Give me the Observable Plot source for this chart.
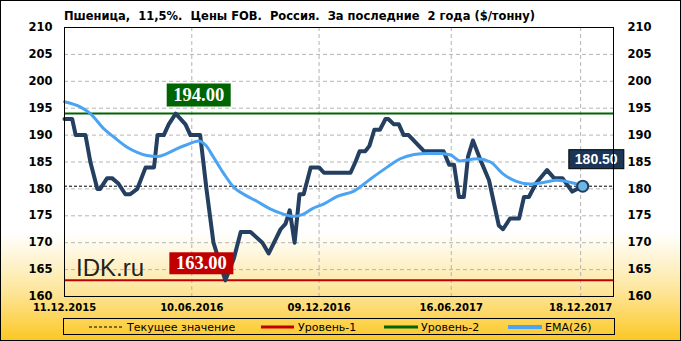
<!DOCTYPE html>
<html><head><meta charset="utf-8">
<script src="https://cdn.jsdelivr.net/npm/d3@7"></script>
<script src="https://cdn.jsdelivr.net/npm/@observablehq/plot@0.6"></script>
<style>
html,body{margin:0;padding:0;background:#fff;}
#wrap{position:relative;width:681px;height:341px;overflow:hidden;
background:linear-gradient(180deg,#ffffff 0px,#ffffff 232px,#fef3cf 262px,#fde598 292px,#fdd55a 318px,#fcc722 341px);}
#wrap svg{position:absolute;left:0;top:0;}
</style></head>
<body><div id="wrap"></div>
<script>
// ---- data ----
const priceDates = ["2015-12-11","2015-12-22","2015-12-27","2016-01-10","2016-01-17","2016-01-27","2016-01-31","2016-02-10","2016-02-17","2016-02-26","2016-03-07","2016-03-14","2016-03-24","2016-04-05","2016-04-17","2016-04-22","2016-05-01","2016-05-08","2016-05-18","2016-06-01","2016-06-08","2016-06-22","2016-07-01","2016-07-11","2016-07-28","2016-08-09","2016-08-19","2016-09-02","2016-09-19","2016-09-28","2016-10-15","2016-10-22","2016-10-28","2016-11-04","2016-11-11","2016-11-17","2016-11-27","2016-12-09","2016-12-16","2017-01-23","2017-01-30","2017-02-05","2017-02-13","2017-02-19","2017-02-26","2017-03-06","2017-03-14","2017-03-18","2017-03-26","2017-04-02","2017-04-09","2017-04-16","2017-05-08","2017-06-05","2017-06-13","2017-06-20","2017-06-27","2017-07-04","2017-07-10","2017-07-17","2017-07-28","2017-08-09","2017-08-23","2017-08-29","2017-09-08","2017-09-21","2017-09-28","2017-10-05","2017-10-15","2017-10-31","2017-11-10","2017-11-22","2017-12-06","2017-12-13","2017-12-21"];
const priceValues = [193,193,190,190,185,180,180,182,182,181,179,179,180,184,184,190,190,192,194,192,190,190,180,170,163,167,172,172,170,168,172.5,173.5,176,170,179,179,184,184,183,183,185,187,187,188,191,191,193,193,192,192,190,190,187,187,184.5,184.5,178.5,178.5,186,189,185.3,181.6,173.2,172.5,174.5,174.5,178.5,178.5,181,183.5,182,182,179.5,180,180.5];
const emaDates = ["2015-12-11","2016-01-03","2016-01-17","2016-02-05","2016-02-20","2016-03-09","2016-03-24","2016-04-07","2016-04-22","2016-05-06","2016-05-20","2016-06-03","2016-06-20","2016-06-30","2016-07-11","2016-07-26","2016-08-09","2016-08-26","2016-09-11","2016-09-30","2016-10-17","2016-11-03","2016-11-15","2016-11-29","2016-12-16","2017-01-04","2017-01-28","2017-02-21","2017-03-16","2017-04-04","2017-04-24","2017-05-13","2017-06-01","2017-06-15","2017-06-29","2017-07-23","2017-08-11","2017-08-29","2017-09-17","2017-10-07","2017-10-26","2017-11-14","2017-12-04","2017-12-21"];
const emaValues = [196.2,195.2,194,191.2,189.6,187.8,186.8,186.2,186,186.6,187.5,188.2,188.9,188.1,185.9,182.8,180.3,178.8,177.7,176.3,175.4,174.9,175.2,176.3,177.2,178.6,179.6,181.9,184,185.6,186.4,186.6,186.6,186.3,185.2,185.6,185,182.8,181.4,180.9,181.2,181.6,181.2,180.6];
const level1 = 163.00;
const level2 = 194.00;
const currentValue = 180.50;
const level2Date = "2016-05-18";
const level1Date = "2016-07-28";
const yTicks = [160,165,170,175,180,185,190,195,200,205,210];
const xTickLabels = ["11.12.2015","10.06.2016","09.12.2016","16.06.2017","18.12.2017"];
const titleText = "Пшеница,  11,5%.  Цены FOB.  Россия.  За последние  2 года ($/тонну)";
const legendLabels = ["Текущее значение","Уровень-1","Уровень-2","EMA(26)"];
const watermark = "IDK.ru";

// ---- build ----
const pd = s => new Date(s + "T00:00:00Z");
const pdm = s => { const [d,m,y] = s.split("."); return pd(`${y}-${m}-${d}`); };
const price = priceDates.map((d,i) => ({date: pd(d), v: priceValues[i]}));
const ema = emaDates.map((d,i) => ({date: pd(d), v: emaValues[i]}));
const xTicks = xTickLabels.map(pdm);
const last = price[price.length-1];
const fmt = d3.format(".2f");

const NAVY = "#243f60", BLUE = "#4ba3f3", RED = "#c00000", GREEN = "#006400";

const plot = Plot.plot({
  width: 681, height: 341,
  marginLeft: 64, marginRight: 68, marginTop: 27, marginBottom: 45,
  style: {background: "transparent", fontFamily: "DejaVu Sans", color: "#000", overflow: "visible"},
  x: {type: "utc", domain: [xTicks[0], pd("2018-02-03")]},
  y: {domain: [yTicks[0], yTicks[yTicks.length-1]]},
  marks: [
    Plot.gridY(yTicks.slice(1, -1), {stroke: "#b4b4b4", strokeOpacity: 1, strokeDasharray: "4,3"}),
    Plot.gridX(xTicks.slice(1), {stroke: "#b4b4b4", strokeOpacity: 1, strokeDasharray: "4,3"}),
    Plot.ruleY([level1], {stroke: RED, strokeWidth: 2}),
    Plot.ruleY([level2], {stroke: GREEN, strokeWidth: 2}),
    Plot.ruleY([currentValue], {stroke: "#000", strokeWidth: 1, strokeDasharray: "3,2"}),
    Plot.line(price, {x: "date", y: "v", stroke: NAVY, strokeWidth: 4, strokeLinejoin: "round", strokeLinecap: "round"}),
    Plot.line(ema, {x: "date", y: "v", stroke: BLUE, strokeWidth: 3, curve: "monotone-x"}),
    Plot.dot([last], {x: "date", y: "v", r: 5.5, fill: "#6bb8e4", stroke: NAVY, strokeWidth: 2}),
    Plot.text([{date: pd(level2Date), v: level2}], {x: "date", y: "v", text: d => fmt(d.v), dx: 23, dy: -18.5,
      fill: "#fff", fontWeight: "bold", fontSize: 18.5, fontFamily: "Liberation Serif"}),
    Plot.text([{date: pd(level1Date), v: level1}], {x: "date", y: "v", text: d => fmt(d.v), dx: -24, dy: -17,
      fill: "#fff", fontWeight: "bold", fontSize: 18.5, fontFamily: "Liberation Serif"}),
    Plot.text([last], {x: "date", y: "v", text: d => fmt(d.v), dx: 13.5, dy: -26.5,
      fill: "#fff", fontWeight: "bold", fontSize: 14, fontFamily: "Liberation Sans"}),
    Plot.frame({stroke: "#000"}),
    Plot.axisY({anchor: "left", ticks: yTicks, tickSize: 0, tickPadding: 12, fontWeight: "bold", fontSize: 11.5, label: null}),
    Plot.axisY({anchor: "right", ticks: yTicks, tickSize: 0, tickPadding: 14, fontWeight: "bold", fontSize: 11.5, label: null}),
    Plot.axisX({ticks: xTicks, tickSize: 0, tickPadding: 7, tickFormat: d3.utcFormat("%d.%m.%Y"), fontWeight: "bold", fontSize: 10, label: null})
  ]
});
const wrap = document.getElementById("wrap");
wrap.appendChild(plot);

function boxify(label, fill, stroke, w, h) {
  Array.from(plot.querySelectorAll("text")).filter(t => t.textContent === label).forEach(t => {
    const b = t.getBBox();
    const r = document.createElementNS("http://www.w3.org/2000/svg", "rect");
    r.setAttribute("x", b.x + b.width/2 - w/2);
    r.setAttribute("y", b.y + b.height/2 - h/2);
    r.setAttribute("width", w);
    r.setAttribute("height", h);
    r.setAttribute("fill", fill);
    if (stroke) { r.setAttribute("stroke", stroke); r.setAttribute("stroke-width", 1); }
    if (t.getAttribute("transform")) r.setAttribute("transform", t.getAttribute("transform"));
    t.parentNode.insertBefore(r, t);
  });
}
boxify(fmt(level2), GREEN, null, 64, 23);
boxify(fmt(level1), RED, null, 64, 22);
boxify(fmt(last.v), "#1b3557", "#000", 55, 19);

// ---- overlay: title, watermark, legend, outer border ----
const ov = d3.select(wrap).append("svg").attr("width", 681).attr("height", 341);
ov.append("text").attr("x", 64).attr("y", 19.5)
  .attr("font-family", "DejaVu Sans").attr("font-weight", "bold").attr("font-size", 11.5)
  .attr("textLength", 471).attr("lengthAdjust", "spacingAndGlyphs")
  .style("white-space", "pre").text(titleText);
ov.append("text").attr("x", 76).attr("y", 276)
  .attr("font-family", "Liberation Sans").attr("font-size", 24).attr("fill", "#222").text(watermark);

ov.append("rect").attr("x", 63.5).attr("y", 318.5).attr("width", 551).attr("height", 16)
  .attr("fill", "none").attr("stroke", "#000");
const sw = [
  {x1: 89, x2: 122, tx: 127, stroke: "#000", w: 1, dash: "3,2"},
  {x1: 261, x2: 294, tx: 298, stroke: RED, w: 3, dash: null},
  {x1: 384, x2: 418, tx: 421, stroke: GREEN, w: 3, dash: null},
  {x1: 508, x2: 542, tx: 545, stroke: BLUE, w: 4, dash: null}
];
sw.forEach((s, i) => {
  const l = ov.append("line").attr("x1", s.x1).attr("x2", s.x2).attr("y1", 327).attr("y2", 327)
    .attr("stroke", s.stroke).attr("stroke-width", s.w);
  if (s.dash) l.attr("stroke-dasharray", s.dash);
  ov.append("text").attr("x", s.tx).attr("y", 331).attr("font-family", "DejaVu Sans").attr("font-size", 11)
    .attr("fill", "#000").text(legendLabels[i]);
});
ov.append("rect").attr("x", 0.5).attr("y", 0.5).attr("width", 680).attr("height", 340)
  .attr("fill", "none").attr("stroke", "#000");
</script>
</body></html>
